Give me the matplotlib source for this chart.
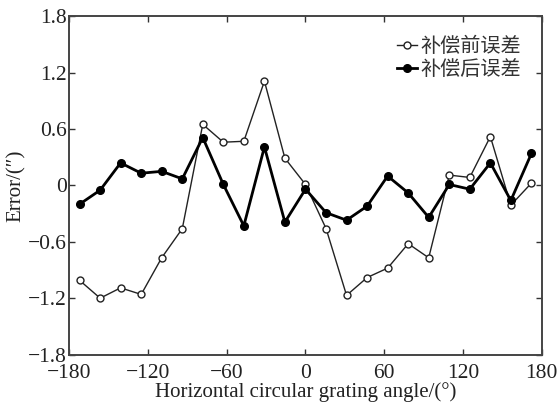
import numpy as np
import matplotlib
matplotlib.use('Agg')
import matplotlib.pyplot as plt

# 数据
angle = [-172.2, -156.5, -140.9, -125.2, -109.6, -93.9, -78.3, -62.6, -47.0, -31.3, -15.7, 0.0,
         15.7, 31.3, 47.0, 62.6, 78.3, 93.9, 109.6, 125.2, 140.9, 156.5, 172.2]
err_before = [-1.01, -1.20, -1.09, -1.16, -0.77, -0.46, 0.65, 0.46, 0.47, 1.11, 0.29, 0.01,
              -0.46, -1.17, -0.98, -0.88, -0.62, -0.77, 0.11, 0.085, 0.52, -0.21, 0.025]
err_after = [-0.20, -0.05, 0.24, 0.13, 0.15, 0.07, 0.51, 0.01, -0.43, 0.41, -0.39, -0.04,
             -0.29, -0.37, -0.22, 0.10, -0.08, -0.34, 0.01, -0.04, 0.24, -0.16, 0.34]
xticks = [-180, -120, -60, 0, 60, 120, 180]
yticks = [-1.8, -1.2, -0.6, 0, 0.6, 1.2, 1.8]
legend_names = ['补偿前误差', '补偿后误差']

plt.rcParams['font.family'] = ['Liberation Serif', 'Noto Sans CJK SC']

fig = plt.figure(figsize=(5.59, 4.08), dpi=100)
ax = fig.add_axes([0.124, 0.131, 0.845, 0.829])

ax.plot(angle, err_before, '-o', color='#222222', lw=1.0, ms=5, mfc='white', mec='#222222', mew=1.0,
        label=legend_names[0])
ax.plot(angle, err_after, '-o', color='black', lw=2.0, ms=5.5, mfc='black', mec='black',
        label=legend_names[1])

ax.set_xlim(-180, 180)
ax.set_ylim(-1.8, 1.8)
ax.set_xticks(xticks)
ax.set_yticks(yticks)
ax.set_xticklabels([str(t).replace('-', '\u2212') for t in xticks])
ax.set_yticklabels(['0' if t == 0 else ('%.1f' % t).replace('-', '\u2212') for t in yticks])
ax.tick_params(direction='in', top=True, right=True, length=4, width=1, labelsize=15.5, colors='#333333',
               labelcolor='#222222')
ax.tick_params(axis='x', pad=7)
ax.tick_params(axis='y', pad=2)
for s in ax.spines.values():
    s.set_linewidth(1.4)
    s.set_color('#444444')

ax.set_xlabel('Horizontal circular grating angle/(°)', fontsize=15, labelpad=-1, color='#222222')
ax.set_ylabel('Error/(″)', fontsize=15, labelpad=1, color='#222222')

leg = ax.legend(loc='upper right', frameon=False, handlelength=1.0, handletextpad=0.15, labelspacing=0.1,
                borderaxespad=0.4, bbox_to_anchor=(0.99, 0.99),
                prop={'family': ['Noto Sans CJK SC'], 'size': 14.5})
for t in leg.get_texts():
    t.set_color('#333333')

fig.savefig('out.png', dpi=100)
